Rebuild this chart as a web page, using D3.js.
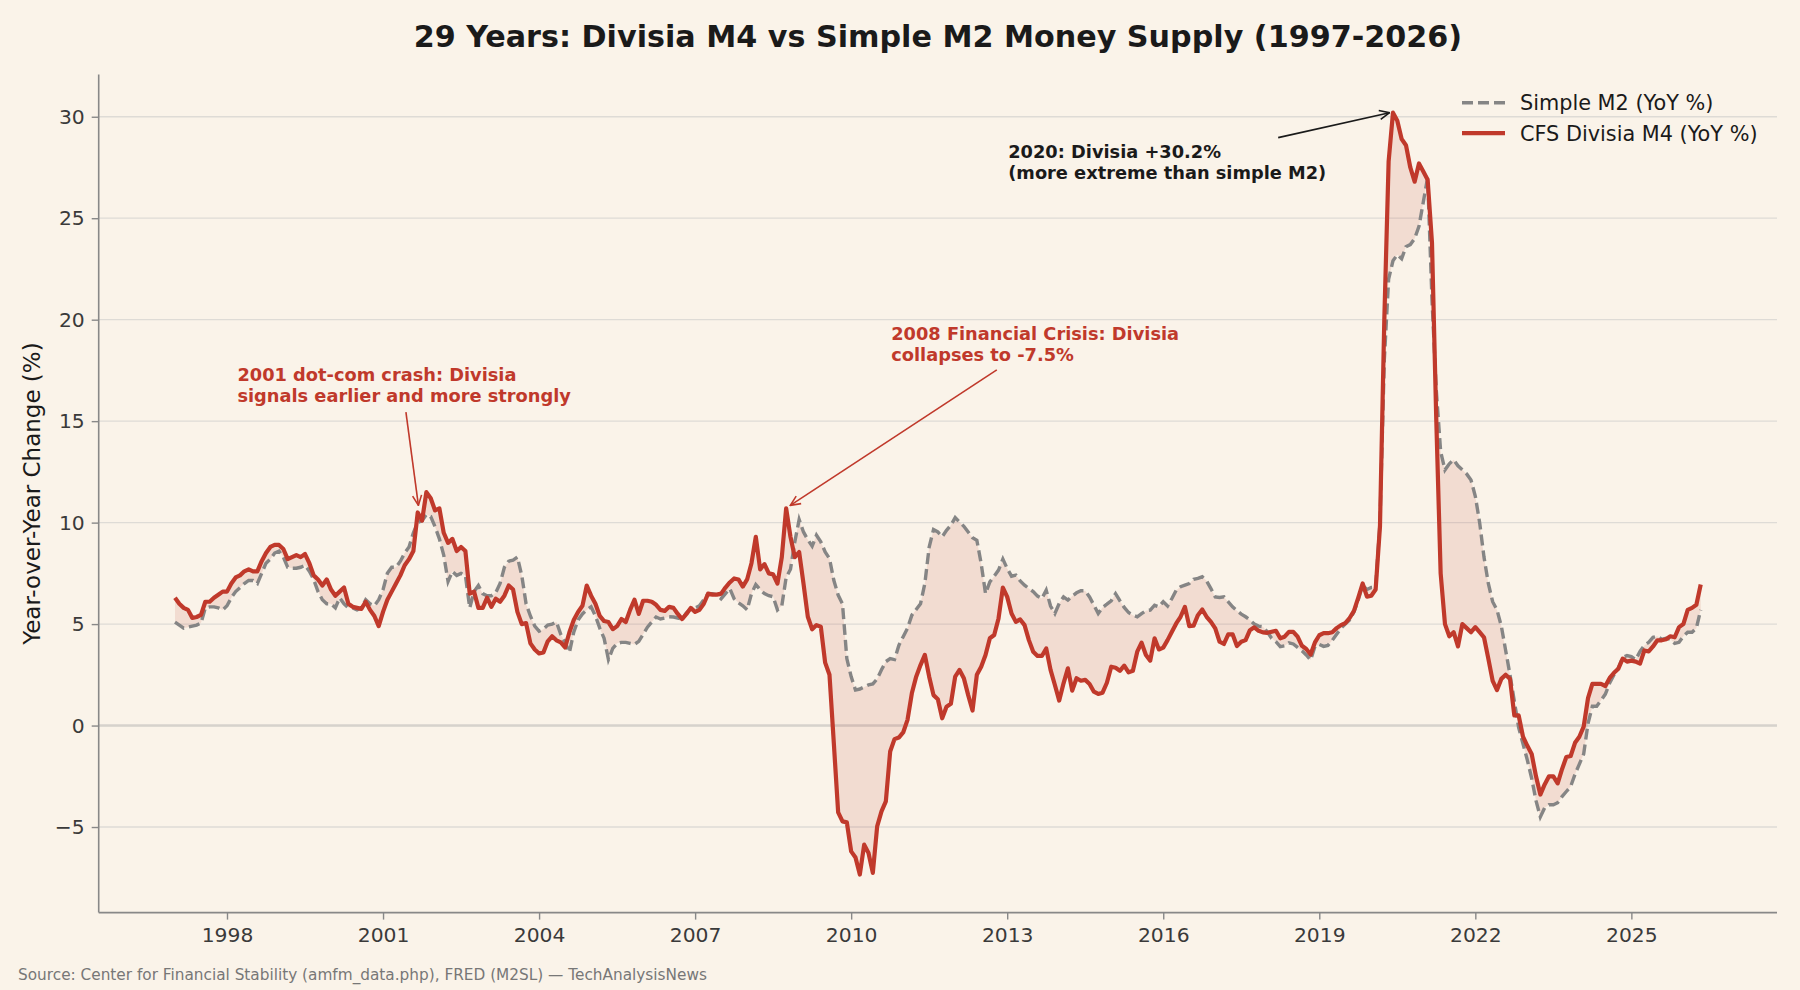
<!DOCTYPE html>
<html>
<head>
<meta charset="utf-8">
<script src="https://cdn.jsdelivr.net/npm/d3@7"></script>
<style>
  html, body { margin: 0; padding: 0; background: #faf3e9; }
  svg { display: block; font-family: "DejaVu Sans", sans-serif; }
</style>
</head>
<body>
<svg id="chart" width="1800" height="990"></svg>
<script>
// monthly YoY % change, Jan 1997 .. May 2026
const startYear = 1997;

const divisia = [
  6.3, 6.0, 5.8, 5.7, 5.3, 5.35, 5.45, 6.1, 6.1, 6.3, 6.45, 6.6,          // 1997
  6.6, 7.0, 7.3, 7.4, 7.6, 7.7, 7.6, 7.6, 8.1, 8.5, 8.8, 8.9,             // 1998
  8.9, 8.7, 8.2, 8.3, 8.4, 8.3, 8.45, 8.0, 7.4, 7.2, 6.9, 7.2,            // 1999
  6.7, 6.4, 6.6, 6.8, 6.0, 5.85, 5.8, 5.75, 6.1, 5.7, 5.4, 4.9,           // 2000
  5.6, 6.2, 6.6, 7.0, 7.4, 7.9, 8.2, 8.6, 10.5, 10.1, 11.5, 11.2,         // 2001
  10.6, 10.7, 9.5, 9.0, 9.2, 8.6, 8.8, 8.6, 6.5, 6.6, 5.8, 5.8,           // 2002
  6.3, 5.85, 6.25, 6.1, 6.4, 6.9, 6.7, 5.6, 5.0, 5.05, 4.05, 3.75,        // 2003
  3.55, 3.6, 4.15, 4.4, 4.2, 4.1, 3.85, 4.6, 5.2, 5.6, 5.9, 6.9,          // 2004
  6.4, 6.0, 5.4, 5.15, 5.1, 4.75, 4.9, 5.25, 5.1, 5.7, 6.2, 5.5,          // 2005
  6.15, 6.15, 6.1, 5.95, 5.7, 5.65, 5.85, 5.8, 5.5, 5.25, 5.5, 5.8,       // 2006
  5.6, 5.7, 6.0, 6.5, 6.45, 6.45, 6.5, 6.8, 7.05, 7.25, 7.2, 6.85,        // 2007
  7.2, 8.0, 9.3, 7.7, 7.95, 7.5, 7.45, 7.0, 8.3, 10.7, 9.3, 8.3,          // 2008
  8.55, 7.0, 5.36, 4.74, 4.95, 4.87, 3.1, 2.5, -0.87, -4.28, -4.72, -4.77, // 2009
  -6.2, -6.5, -7.34, -5.87, -6.28, -7.26, -4.97, -4.23, -3.74, -1.28, -0.67, -0.59, // 2010
  -0.34, 0.28, 1.59, 2.41, 2.98, 3.48, 2.41, 1.5, 1.3, 0.36, 0.93, 1.07,  // 2011
  2.41, 2.74, 2.33, 1.5, 0.74, 2.5, 2.9, 3.48, 4.3, 4.46, 5.28, 6.8,      // 2012
  6.34, 5.52, 5.11, 5.23, 4.95, 4.21, 3.64, 3.43, 3.43, 3.8, 2.74, 2.0,   // 2013
  1.23, 2.08, 2.82, 1.72, 2.33, 2.21, 2.25, 2.05, 1.67, 1.56, 1.62, 2.11, // 2014
  2.9, 2.85, 2.7, 2.95, 2.62, 2.7, 3.64, 4.08, 3.48, 3.2, 4.3, 3.75,      // 2015
  3.84, 4.21, 4.62, 5.03, 5.36, 5.85, 4.9, 4.92, 5.44, 5.72, 5.36, 5.11,  // 2016
  4.79, 4.13, 4.02, 4.49, 4.5, 3.92, 4.13, 4.21, 4.7, 4.84, 4.67, 4.59,   // 2017
  4.57, 4.62, 4.67, 4.3, 4.38, 4.62, 4.62, 4.38, 3.93, 3.77, 3.5, 4.1,    // 2018
  4.45, 4.55, 4.55, 4.6, 4.8, 4.95, 5.05, 5.3, 5.65, 6.3, 7.0, 6.35,      // 2019
  6.4, 6.7, 9.8, 20.0, 27.8, 30.2, 29.8, 28.9, 28.6, 27.5, 26.8, 27.7,    // 2020
  27.3, 26.9, 23.8, 15.0, 7.5, 5.0, 4.4, 4.6, 3.9, 5.0, 4.8, 4.6,         // 2021
  4.85, 4.6, 4.35, 3.3, 2.2, 1.75, 2.3, 2.5, 2.3, 0.5, 0.5, -0.55,        // 2022
  -1.0, -1.4, -2.5, -3.4, -2.9, -2.5, -2.5, -2.85, -2.15, -1.55, -1.5, -0.85, // 2023
  -0.55, -0.05, 1.35, 2.05, 2.05, 2.05, 1.95, 2.35, 2.6, 2.8, 3.3, 3.15,  // 2024
  3.2, 3.15, 3.05, 3.7, 3.65, 3.9, 4.2, 4.2, 4.25, 4.4, 4.35, 4.85,       // 2025
  5.0, 5.7, 5.8, 5.95, 6.95                                               // 2026
];

const m2 = [
  5.1, 4.95, 4.8, 4.85, 4.9, 4.95, 5.05, 5.8, 5.85, 5.85, 5.8, 5.7,       // 1997
  5.9, 6.3, 6.6, 6.8, 7.0, 7.15, 7.15, 7.0, 7.5, 8.0, 8.2, 8.5,           // 1998
  8.6, 8.3, 7.8, 7.75, 7.75, 7.8, 7.9, 7.6, 7.2, 6.6, 6.2, 6.0,           // 1999
  6.0, 5.8, 6.3, 6.0, 5.8, 5.8, 5.7, 5.8, 6.2, 6.0, 5.9, 6.2,             // 2000
  6.7, 7.5, 7.8, 7.8, 8.1, 8.5, 8.8, 9.5, 10.0, 10.1, 10.4, 10.3,         // 2001
  9.8, 9.2, 8.4, 7.1, 7.6, 7.4, 7.5, 7.4, 5.8, 6.6, 6.9, 6.5,             // 2002
  6.4, 6.4, 6.55, 7.0, 7.8, 8.1, 8.15, 8.3, 7.4, 6.0, 5.4, 4.9,           // 2003
  4.65, 4.75, 4.95, 5.0, 5.1, 4.5, 4.1, 3.6, 4.6, 5.2, 5.5, 5.7,          // 2004
  5.85, 5.4, 4.8, 4.3, 3.25, 3.8, 4.05, 4.1, 4.1, 4.05, 4.0, 4.15,        // 2005
  4.5, 4.85, 5.1, 5.35, 5.25, 5.3, 5.36, 5.35, 5.3, 5.25, 5.55, 5.75,     // 2006
  5.8, 5.9, 6.2, 6.5, 6.5, 6.45, 6.25, 6.5, 6.75, 6.25, 6.05, 5.9,        // 2007
  5.7, 6.5, 6.95, 6.7, 6.5, 6.4, 6.35, 5.7, 5.9, 7.3, 7.7, 9.05,          // 2008
  10.15, 9.54, 9.16, 8.84, 9.38, 9.05, 8.56, 8.23, 7.16, 6.43, 6.0, 3.3,  // 2009
  2.41, 1.75, 1.8, 1.9, 2.0, 2.05, 2.3, 2.75, 3.15, 3.3, 3.25, 3.95,      // 2010
  4.38, 4.79, 5.44, 5.72, 6.0, 7.0, 8.8, 9.66, 9.54, 9.3, 9.62, 9.87,     // 2011
  10.25, 10.03, 9.82, 9.54, 9.26, 9.13, 7.98, 6.5, 7.08, 7.36, 7.66, 8.2, // 2012
  7.74, 7.36, 7.41, 7.13, 6.92, 6.75, 6.6, 6.38, 6.26, 6.67, 5.89, 5.52,  // 2013
  6.02, 6.34, 6.18, 6.38, 6.54, 6.64, 6.64, 6.34, 5.93, 5.52, 5.82, 5.98, // 2014
  6.15, 6.5, 6.15, 5.82, 5.57, 5.44, 5.36, 5.52, 5.66, 5.69, 5.93, 5.85,  // 2015
  6.1, 5.89, 6.26, 6.67, 6.84, 6.92, 7.0, 7.21, 7.25, 7.33, 7.13, 6.75,   // 2016
  6.34, 6.31, 6.34, 6.1, 5.85, 5.66, 5.49, 5.36, 5.2, 5.0, 4.9, 4.87,     // 2017
  4.62, 4.3, 4.13, 3.89, 3.93, 4.08, 4.02, 3.85, 3.69, 3.48, 3.23, 3.9,   // 2018
  4.0, 3.9, 3.95, 4.2, 4.5, 4.8, 5.0, 5.2, 5.6, 6.2, 6.9, 6.7,            // 2019
  6.8, 6.8, 10.0, 18.0, 22.0, 22.9, 23.2, 23.0, 23.6, 23.7, 24.0, 24.6,   // 2020
  25.8, 27.0, 21.0, 16.5, 13.5, 12.6, 12.9, 13.1, 12.8, 12.6, 12.4, 12.1, // 2021
  11.3, 10.0, 8.3, 7.0, 6.1, 5.7, 4.9, 3.7, 2.5, 1.2, -0.1, -0.9,         // 2022
  -1.7, -2.6, -3.7, -4.5, -4.05, -3.9, -3.9, -3.8, -3.5, -3.25, -3.0, -2.4, // 2023
  -1.9, -1.4, 0.1, 0.95, 0.95, 1.25, 1.55, 2.1, 2.5, 2.85, 3.35, 3.45,    // 2024
  3.4, 3.25, 3.65, 3.95, 4.1, 4.35, 4.4, 4.25, 4.3, 4.25, 4.05, 4.1,      // 2025
  4.4, 4.6, 4.6, 4.8, 5.7                                                 // 2026
];

const xTickYears = [1998, 2001, 2004, 2007, 2010, 2013, 2016, 2019, 2022, 2025];
const yTicks = [-5, 0, 5, 10, 15, 20, 25, 30];
const seriesNames = ["Simple M2 (YoY %)", "CFS Divisia M4 (YoY %)"];

const titleText = "29 Years: Divisia M4 vs Simple M2 Money Supply (1997-2026)";
const yLabelText = "Year-over-Year Change (%)";
const sourceText = "Source: Center for Financial Stability (amfm_data.php), FRED (M2SL) \u2014 TechAnalysisNews";

// annotation text + arrow, in data units (year, %)
const notes = [
  { lines: ["2001 dot-com crash: Divisia", "signals earlier and more strongly"],
    tx: 1998.2, ty: 16.96, from: [2001.44, 15.45], to: [2001.68, 10.85], color: "#c0392b" },
  { lines: ["2008 Financial Crisis: Divisia", "collapses to -7.5%"],
    tx: 2010.77, ty: 19.0, from: [2012.8, 17.53], to: [2008.83, 10.85], color: "#c0392b" },
  { lines: ["2020: Divisia +30.2%", "(more extreme than simple M2)"],
    tx: 2013.02, ty: 27.95, from: [2018.21, 28.97], to: [2020.35, 30.2], color: "#1a1a1a" }
];

const RED = "#c0392b";
const GREY = "#858585";

const rows = divisia.map((d, i) => ({ t: startYear + i / 12, div: d, m2: m2[i] }));

const margin = { left: 98.7, right: 1777, top: 74.6, bottom: 912.6 };
const svg = d3.select("#chart");

svg.append("rect").attr("width", 1800).attr("height", 990).attr("fill", "#faf3e9");

// matplotlib-style 5% margins
const tExt = d3.extent(rows, d => d.t);
const tPad = (tExt[1] - tExt[0]) * 0.05;
const vMin = d3.min(rows, d => Math.min(d.div, d.m2));
const vMax = d3.max(rows, d => Math.max(d.div, d.m2));
const vPad = (vMax - vMin) * 0.05;

const x = d3.scaleLinear().domain([tExt[0] - tPad, tExt[1] + tPad]).range([margin.left, margin.right]);
const y = d3.scaleLinear().domain([vMin - vPad, vMax + vPad]).range([margin.bottom, margin.top]);

// grid
svg.append("g")
  .selectAll("line")
  .data(yTicks)
  .join("line")
  .attr("x1", margin.left).attr("x2", margin.right)
  .attr("y1", d => y(d)).attr("y2", d => y(d))
  .attr("stroke", "#dedbd6")
  .attr("stroke-width", 1.3);

// zero line
svg.append("line")
  .attr("x1", margin.left).attr("x2", margin.right)
  .attr("y1", y(0)).attr("y2", y(0))
  .attr("stroke", "#d6d2cc")
  .attr("stroke-width", 2.4);

// shaded gap between the two series
svg.append("path")
  .datum(rows)
  .attr("fill", RED)
  .attr("fill-opacity", 0.12)
  .attr("d", d3.area().x(d => x(d.t)).y0(d => y(d.m2)).y1(d => y(d.div)));

svg.append("path")
  .datum(rows)
  .attr("fill", "none")
  .attr("stroke", GREY)
  .attr("stroke-width", 3.4)
  .attr("stroke-dasharray", "11,5")
  .attr("d", d3.line().x(d => x(d.t)).y(d => y(d.m2)));

svg.append("path")
  .datum(rows)
  .attr("fill", "none")
  .attr("stroke", RED)
  .attr("stroke-width", 4.2)
  .attr("stroke-linejoin", "round")
  .attr("d", d3.line().x(d => x(d.t)).y(d => y(d.div)));

// axes
const xAxis = svg.append("g")
  .attr("transform", `translate(0,${margin.bottom})`)
  .call(d3.axisBottom(x).tickValues(xTickYears).tickFormat(d3.format("d")).tickSize(7).tickPadding(8).tickSizeOuter(0));
const yAxis = svg.append("g")
  .attr("transform", `translate(${margin.left},0)`)
  .call(d3.axisLeft(y).tickValues(yTicks).tickFormat(d => d < 0 ? "\u2212" + Math.abs(d) : d).tickSize(7).tickPadding(7).tickSizeOuter(0));

[xAxis, yAxis].forEach(g => {
  g.select(".domain").attr("stroke", "#888").attr("stroke-width", 1.6);
  g.selectAll(".tick line").attr("stroke", "#888").attr("stroke-width", 1.4);
  g.selectAll(".tick text").attr("fill", "#3a3a3a").attr("font-size", 20.3)
    .attr("font-family", '"DejaVu Sans", sans-serif');
});
// extend the axis lines to the full plot box
xAxis.select(".domain").attr("d", `M${margin.left},0H${margin.right}`);
yAxis.select(".domain").attr("d", `M0,${margin.top}V${margin.bottom}`);

// titles
svg.append("text")
  .attr("x", (margin.left + margin.right) / 2)
  .attr("y", 47)
  .attr("text-anchor", "middle")
  .attr("font-size", 30.2)
  .attr("font-weight", "bold")
  .attr("fill", "#1a1a1a")
  .text(titleText);

svg.append("text")
  .attr("transform", `translate(40,${(margin.top + margin.bottom) / 2}) rotate(-90)`)
  .attr("text-anchor", "middle")
  .attr("font-size", 23)
  .attr("fill", "#1a1a1a")
  .text(yLabelText);

svg.append("text")
  .attr("x", 18)
  .attr("y", 980)
  .attr("font-size", 15.3)
  .attr("fill", "#777")
  .text(sourceText);

// legend
const legend = svg.append("g");
const legendStyles = [
  { color: GREY, width: 3.4, dash: "11,5" },
  { color: RED, width: 4.2, dash: null }
];
seriesNames.forEach((name, i) => {
  const ly = 102.7 + i * 30.5;
  legend.append("line")
    .attr("x1", 1462).attr("x2", 1505)
    .attr("y1", ly).attr("y2", ly)
    .attr("stroke", legendStyles[i].color)
    .attr("stroke-width", legendStyles[i].width)
    .attr("stroke-dasharray", legendStyles[i].dash);
  legend.append("text")
    .attr("x", 1520).attr("y", ly)
    .attr("dy", "0.36em")
    .attr("font-size", 20.8)
    .attr("fill", "#1a1a1a")
    .text(name);
});

// annotations
const defs = svg.append("defs");
notes.forEach((n, i) => {
  defs.append("marker")
    .attr("id", "head" + i)
    .attr("viewBox", "0 0 12 12")
    .attr("refX", 11).attr("refY", 6)
    .attr("markerWidth", 12).attr("markerHeight", 12)
    .attr("markerUnits", "userSpaceOnUse")
    .attr("orient", "auto")
    .append("path")
    .attr("d", "M1,1.5 L11,6 L1,10.5")
    .attr("fill", "none")
    .attr("stroke", n.color)
    .attr("stroke-width", 1.6);

  svg.append("line")
    .attr("x1", x(n.from[0])).attr("y1", y(n.from[1]))
    .attr("x2", x(n.to[0])).attr("y2", y(n.to[1]))
    .attr("stroke", n.color)
    .attr("stroke-width", 1.6)
    .attr("marker-end", `url(#head${i})`);

  const t = svg.append("text")
    .attr("x", x(n.tx)).attr("y", y(n.ty))
    .attr("font-size", 17.8)
    .attr("font-weight", "bold")
    .attr("fill", n.color);
  n.lines.forEach((line, j) => {
    t.append("tspan").attr("x", x(n.tx)).attr("dy", j === 0 ? 0 : 21).text(line);
  });
});
</script>
</body>
</html>
